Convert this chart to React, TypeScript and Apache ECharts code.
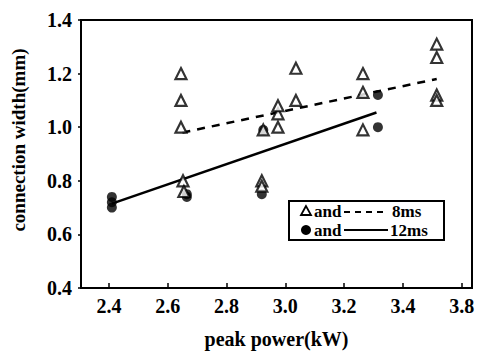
import React, { useEffect, useRef } from "react";
import * as echarts from "echarts";

const xTickValues = [2.4, 2.6, 2.8, 3.0, 3.2, 3.4, 3.6];
const xTickLabels = ["2.4", "2.6", "2.8", "3.0", "3.2", "3.4", "3.8"];
const yTickLabels = ["0.4", "0.6", "0.8", "1.0", "1.2", "1.4"];

const triangles8ms: [number, number][] = [
  [2.645, 1.2], [2.645, 1.1], [2.645, 1.0], [2.652, 0.8], [2.655, 0.76],
  [2.92, 0.8], [2.92, 0.78], [2.925, 0.99], [2.975, 1.0], [2.975, 1.05], [2.975, 1.08],
  [3.036, 1.22], [3.036, 1.1], [3.264, 1.2], [3.264, 1.13], [3.264, 0.99],
  [3.515, 1.31], [3.515, 1.26], [3.515, 1.12], [3.515, 1.1],
];
const circles12ms: [number, number][] = [
  [2.41, 0.74], [2.41, 0.72], [2.41, 0.7], [2.665, 0.75], [2.665, 0.74],
  [2.92, 0.75], [2.925, 0.99], [3.315, 1.12], [3.315, 1.0],
];
const fit8ms: [number, number][] = [[2.65, 0.98], [3.515, 1.18]];
const fit12ms: [number, number][] = [[2.41, 0.715], [3.31, 1.055]];

const FONT = "'Liberation Serif', 'DejaVu Serif', serif";

export default function App() {
  const ref = useRef<HTMLDivElement>(null);
  useEffect(() => {
    if (!ref.current) return;
    const chart = echarts.init(ref.current, null, { renderer: "svg" });
    chart.setOption({
      animation: false,
      backgroundColor: "#fff",
      grid: {
        left: 81, right: 6, top: 20, bottom: 62,
        show: true, borderColor: "#000", borderWidth: 2,
      },
      xAxis: {
        type: "value",
        min: 2.305,
        max: 3.635,
        name: "peak power(kW)",
        nameLocation: "middle",
        nameGap: 41,
        nameTextStyle: { fontFamily: FONT, fontWeight: "bold", fontSize: 20, color: "#000" },
        axisLine: { show: true, lineStyle: { color: "#000", width: 2 } },
        axisTick: { show: true, inside: true, length: 5, customValues: xTickValues, lineStyle: { color: "#000", width: 1.5 } },
        axisLabel: {
          customValues: xTickValues,
          margin: 8,
          fontFamily: FONT, fontWeight: "bold", fontSize: 20, color: "#000",
          formatter: (v: number) => {
            let best = 0;
            xTickValues.forEach((t, i) => { if (Math.abs(t - v) < Math.abs(xTickValues[best] - v)) best = i; });
            return xTickLabels[best];
          },
        },
        splitLine: { show: false },
      },
      yAxis: {
        type: "value",
        min: 0.4,
        max: 1.4,
        interval: 0.2,
        axisLine: { show: true, lineStyle: { color: "#000", width: 2 } },
        axisTick: { show: true, length: 3, lineStyle: { color: "#000", width: 1.5 } },
        axisLabel: {
          margin: 9,
          fontFamily: FONT, fontWeight: "bold", fontSize: 20, color: "#000",
          formatter: (v: number) => {
            const i = Math.round((v - 0.4) / 0.2);
            return yTickLabels[i] ?? v.toFixed(1);
          },
        },
        splitLine: { show: false },
      },
      graphic: [
        {
          type: "text", x: 18, y: 140, rotation: Math.PI / 2,
          style: {
            text: "connection width(mm)", fontFamily: FONT, fontWeight: "bold",
            fontSize: 19, fill: "#000", align: "center", verticalAlign: "middle",
          },
        },
        {
          type: "group", left: 288, top: 200, children: [
            { type: "rect", shape: { x: 0, y: 0, width: 155, height: 39 }, style: { fill: "#fff", stroke: "#000", lineWidth: 2 } },
            { type: "polygon", shape: { points: [[17, 5], [12, 14], [22, 14]] }, style: { fill: "#fff", stroke: "#000", lineWidth: 1.8 } },
            { type: "text", x: 25, y: 10, style: { text: "and", fontFamily: FONT, fontWeight: "bold", fontSize: 17, fill: "#000", verticalAlign: "middle" } },
            { type: "line", shape: { x1: 55, y1: 11, x2: 99, y2: 11 }, style: { stroke: "#000", lineWidth: 2, lineDash: [6, 5] } },
            { type: "text", x: 103, y: 10, style: { text: "8ms", fontFamily: FONT, fontWeight: "bold", fontSize: 17, fill: "#000", verticalAlign: "middle" } },
            { type: "circle", shape: { cx: 17, cy: 29, r: 5 }, style: { fill: "#000" } },
            { type: "text", x: 25, y: 29, style: { text: "and", fontFamily: FONT, fontWeight: "bold", fontSize: 17, fill: "#000", verticalAlign: "middle" } },
            { type: "line", shape: { x1: 55, y1: 29, x2: 99, y2: 29 }, style: { stroke: "#000", lineWidth: 2 } },
            { type: "text", x: 101, y: 29, style: { text: "12ms", fontFamily: FONT, fontWeight: "bold", fontSize: 17, fill: "#000", verticalAlign: "middle" } },
          ],
        },
      ],
      series: [
        {
          type: "line", data: fit8ms, symbol: "none",
          lineStyle: { color: "#000", width: 2.5, type: [8, 7] }, z: 2,
        },
        {
          type: "line", data: fit12ms, symbol: "none",
          lineStyle: { color: "#000", width: 2.5 }, z: 2,
        },
        {
          type: "scatter", data: circles12ms, symbol: "circle", symbolSize: 10,
          itemStyle: { color: "#000" }, z: 3,
        },
        {
          type: "scatter", data: triangles8ms, symbol: "triangle", symbolSize: 11,
          itemStyle: { color: "#fff", borderColor: "#000", borderWidth: 2.2 }, z: 4,
        },
      ],
    });
    return () => chart.dispose();
  }, []);
  return <div ref={ref} style={{ width: 478, height: 354, position: "absolute", left: 0, top: 0 }} />;
}
